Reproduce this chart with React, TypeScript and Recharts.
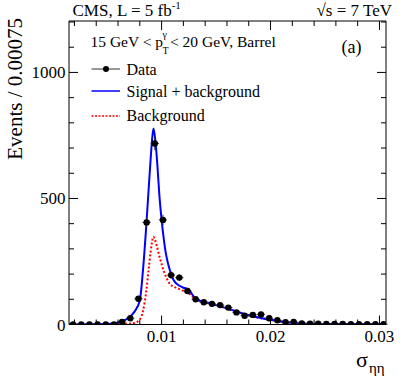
import React from 'react';
import { ComposedChart, XAxis, YAxis, Line, Scatter, ErrorBar } from 'recharts';

// ---- data ----
const binCenters = [
  0.001875, 0.002625, 0.003375, 0.004125, 0.004875, 0.005625, 0.006375, 0.007125,
  0.007875, 0.008625, 0.009375, 0.010125, 0.010875, 0.011625, 0.012375, 0.013125,
  0.013875, 0.014625, 0.015375, 0.016125, 0.016875, 0.017625, 0.018375, 0.019125,
  0.019875, 0.020625, 0.021375, 0.022125, 0.022875, 0.023625, 0.024375, 0.025125,
  0.025875, 0.026625, 0.027375, 0.028125, 0.028875, 0.029625, 0.030375,
];
const dataCounts = [
  0, 0, 0, 0, 0, 0, 10, 25, 102, 405, 718, 415, 196, 186, 133, 100, 88, 82, 77, 67,
  48, 35, 38, 40, 25, 17, 9, 10, 4, 3, 3, 2, 2, 2, 1, 1, 1, 1, 1,
];
const dataErrors = [
  0, 0, 0, 0, 0, 0, 3.2, 5, 10.1, 20.1, 26.8, 20.4, 14, 13.6, 11.5, 10, 9.4, 9.1, 8.8, 8.2,
  6.9, 5.9, 6.2, 6.3, 5, 4.1, 3, 3.2, 2, 1.7, 1.7, 1.4, 1.4, 1.4, 1, 1, 1, 1, 1,
];
const halfBin = 0.000375;

const curveSigma = [
  0.0015, 0.004, 0.005, 0.0055, 0.006, 0.0065, 0.007, 0.0075, 0.008, 0.0083, 0.0086,
  0.0088, 0.009, 0.0091, 0.00925, 0.0094, 0.0096, 0.0098, 0.01, 0.0102, 0.0104, 0.0106,
  0.0108, 0.011, 0.0112, 0.0115, 0.0118, 0.012, 0.0123, 0.0126, 0.013, 0.0135, 0.014,
  0.015, 0.016, 0.017, 0.018, 0.019, 0.02, 0.021, 0.022, 0.023, 0.025, 0.0306,
];
const sigPlusBkg = [
  0, 0.5, 2, 4, 8, 15, 28, 50, 95, 220, 395,
  530, 660, 720, 778, 740, 640, 510, 415, 340, 280, 240,
  210, 185, 170, 158, 150, 146, 142, 132, 108, 95, 89,
  77, 64, 50, 37, 27, 19, 12, 7, 4, 2, 1,
];
const bkgOnly = [
  0, 0, 0, 0.5, 1, 2, 3, 6, 20, 55, 135,
  215, 290, 322, 348, 335, 305, 270, 240, 212, 190, 172,
  158, 152, 148, 143, 138, 133, 127, 120, 104, 93, 87,
  76, 63, 49, 36, 26, 18, 11, 6, 3, 1.5, 0.5,
];

const xTicks = [0.002, 0.004, 0.006, 0.008, 0.01, 0.012, 0.014, 0.016, 0.018, 0.02, 0.022, 0.024, 0.026, 0.028, 0.03];
const xMajor = [0.01, 0.02, 0.03];
const xMajorLabels = ['0.01', '0.02', '0.03'];
const yTicks = [0, 100, 200, 300, 400, 500, 600, 700, 800, 900, 1000, 1100, 1200];
const yMajor = [0, 500, 1000];
const yMajorLabels = ['0', '500', '1000'];

const legendLabels = ['Data', 'Signal + background', 'Background'];

const pointsData = binCenters.map((x, i) => ({ x, y: dataCounts[i], ey: dataErrors[i], ex: halfBin }));
const sbData = curveSigma.map((x, i) => ({ x, y: sigPlusBkg[i] }));
const bData = curveSigma.map((x, i) => ({ x, y: bkgOnly[i] }));

const FONT = '"Liberation Serif", "Times New Roman", serif';

const BottomTick = (props: any) => {
  const { x, y, payload } = props;
  const idx = xMajor.indexOf(payload.value);
  const major = idx >= 0;
  return (
    <g>
      <line x1={x} x2={x} y1={y} y2={y - (major ? 9 : 5)} stroke="#000" strokeWidth={1} />
      {major && (
        <text x={x} y={y + 17} textAnchor="middle" fontFamily={FONT} fontSize={17} fill="#000">
          {xMajorLabels[idx]}
        </text>
      )}
    </g>
  );
};
const TopTick = (props: any) => {
  const { x, y, payload } = props;
  const major = xMajor.indexOf(payload.value) >= 0;
  return <line x1={x} x2={x} y1={y} y2={y + (major ? 9 : 5)} stroke="#000" strokeWidth={1} />;
};
const LeftTick = (props: any) => {
  const { x, y, payload } = props;
  const idx = yMajor.indexOf(payload.value);
  const major = idx >= 0;
  return (
    <g>
      <line x1={x} x2={x + (major ? 9 : 5)} y1={y} y2={y} stroke="#000" strokeWidth={1} />
      {major && (
        <text x={x - 3.5} y={y + 6} textAnchor="end" fontFamily={FONT} fontSize={17} fill="#000">
          {yMajorLabels[idx]}
        </text>
      )}
    </g>
  );
};
const RightTick = (props: any) => {
  const { x, y, payload } = props;
  const major = yMajor.indexOf(payload.value) >= 0;
  return <line x1={x} x2={x - (major ? 9 : 5)} y1={y} y2={y} stroke="#000" strokeWidth={1} />;
};

const Dot = (p: any) => <circle cx={p.cx} cy={p.cy} r={3.2} fill="#000" />;

export default function App() {
  const axisLine = { stroke: '#000', strokeWidth: 1 };
  return (
    <div style={{ position: 'absolute', left: 0, top: 0, width: 407, height: 391, background: '#fff' }}>
      <ComposedChart width={407} height={391} margin={{ top: 20, right: 20, bottom: 65.5, left: 68 }}>
        <XAxis xAxisId="b" type="number" dataKey="x" domain={[0.0015, 0.0306]} allowDataOverflow
          ticks={xTicks} interval={0} tick={<BottomTick />} tickLine={false} tickSize={0} tickMargin={0}
          height={1} axisLine={axisLine} />
        <XAxis xAxisId="t" orientation="top" type="number" dataKey="x" domain={[0.0015, 0.0306]} allowDataOverflow
          ticks={xTicks} interval={0} tick={<TopTick />} tickLine={false} tickSize={0} tickMargin={0}
          height={1} axisLine={axisLine} />
        <YAxis yAxisId="l" type="number" domain={[0, 1204]} allowDataOverflow ticks={yTicks} interval={0}
          tick={<LeftTick />} tickLine={false} tickSize={0} tickMargin={0} width={1} axisLine={axisLine} />
        <YAxis yAxisId="r" orientation="right" type="number" domain={[0, 1204]} allowDataOverflow ticks={yTicks}
          interval={0} tick={<RightTick />} tickLine={false} tickSize={0} tickMargin={0} width={1} axisLine={axisLine} />
        <Line xAxisId="b" yAxisId="l" data={bData} dataKey="y" type="monotone" stroke="#ff0000" strokeWidth={2}
          strokeDasharray="2 2" dot={false} isAnimationActive={false} />
        <Line xAxisId="b" yAxisId="l" data={sbData} dataKey="y" type="monotone" stroke="#0000ff" strokeWidth={2}
          dot={false} isAnimationActive={false} />
        <Scatter xAxisId="b" yAxisId="l" data={pointsData} dataKey="y" shape={<Dot />} isAnimationActive={false}>
          <ErrorBar dataKey="ey" direction="y" width={0} stroke="#333" strokeWidth={1} />
          <ErrorBar dataKey="ex" direction="x" width={0} stroke="#333" strokeWidth={1} />
        </Scatter>
      </ComposedChart>
      <svg width={407} height={391} style={{ position: 'absolute', left: 0, top: 0, pointerEvents: 'none' }}>
        <g fontFamily={FONT} fill="#000">
          <text x={72.5} y={16} fontSize={17}>
            CMS, L = 5 fb<tspan fontSize={11} dy={-7}>-1</tspan>
          </text>
          <text x={392} y={16} fontSize={17} textAnchor="end">√s = 7 TeV</text>
          <text x={90.5} y={47} fontSize={15.5}>15 GeV &lt; p</text>
          <text x={162.5} y={38} fontSize={10}>γ</text>
          <text x={162.5} y={54} fontSize={10}>T</text>
          <text x={170} y={47} fontSize={15.5}>&lt; 20 GeV, Barrel</text>
          <text x={341.5} y={53} fontSize={18}>(a)</text>
          <text x={126.5} y={74.5} fontSize={16}>{legendLabels[0]}</text>
          <text x={126.5} y={97} fontSize={16}>{legendLabels[1]}</text>
          <text x={126.5} y={120.5} fontSize={16}>{legendLabels[2]}</text>
          <text transform="translate(22,18) rotate(-90)" textAnchor="end" fontSize={21}>Events / 0.00075</text>
          <text x={356} y={367} fontSize={22}>σ</text>
          <text x={369} y={373} fontSize={15}>ηη</text>
        </g>
        <line x1={91.5} x2={120} y1={69} y2={69} stroke="#777" strokeWidth={1.5} />
        <circle cx={106} cy={69} r={3} fill="#000" />
        <line x1={91.5} x2={120} y1={91} y2={91} stroke="#0000ff" strokeWidth={1.5} />
        <line x1={91.5} x2={120} y1={116} y2={116} stroke="#ff0000" strokeWidth={1.5} strokeDasharray="2 1.5" />
      </svg>
    </div>
  );
}
